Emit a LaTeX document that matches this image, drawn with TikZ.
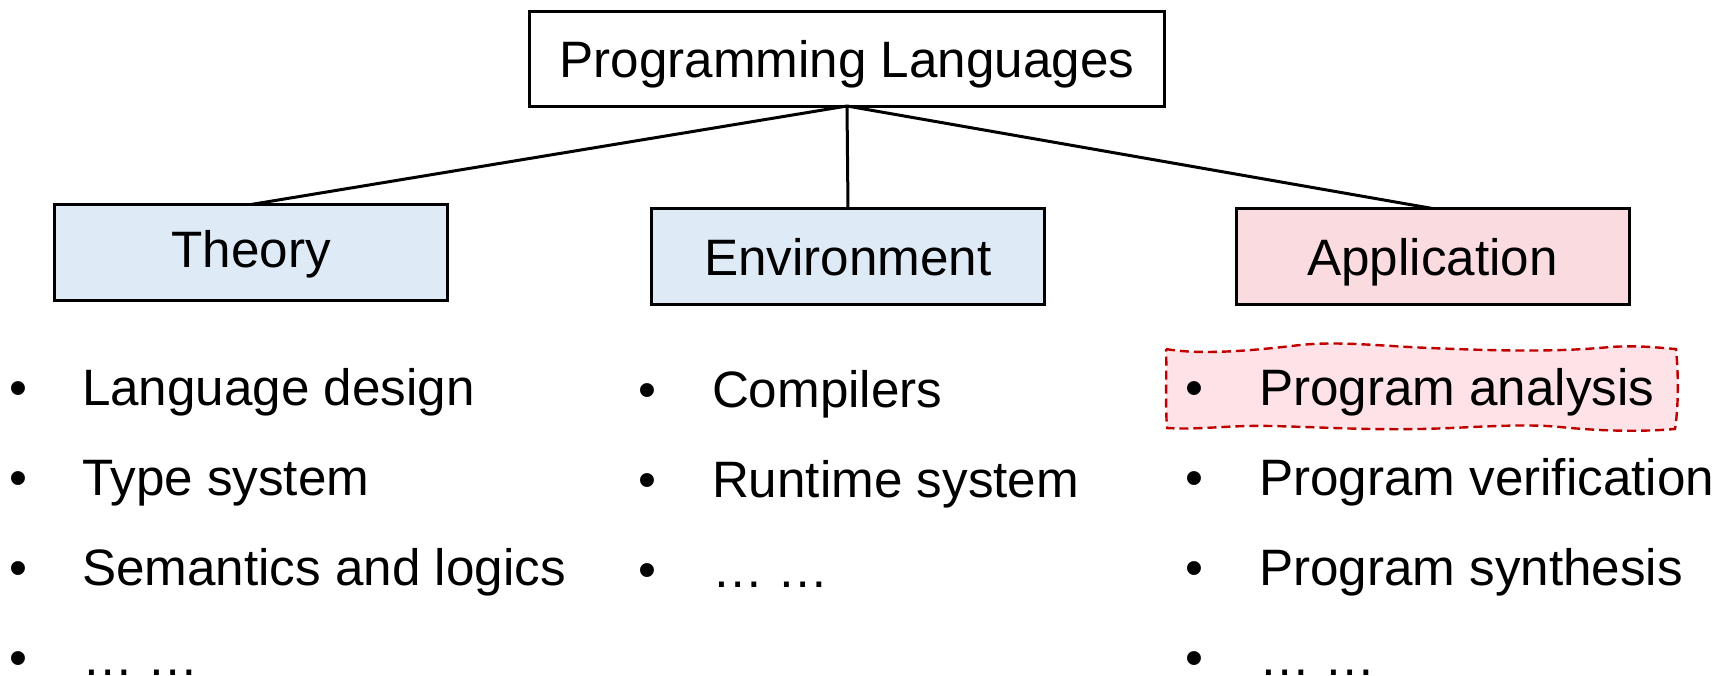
\documentclass[tikz,border=0pt]{standalone}
\usepackage{fontspec}
\setmainfont{Liberation Sans}
\definecolor{bluefill}{HTML}{DEEAF6}
\definecolor{pinkfill}{HTML}{FADBE0}
\definecolor{wavefill}{HTML}{FDE2E7}
\definecolor{wavedash}{HTML}{C00000}
\begin{document}
\begin{tikzpicture}[x=1pt,y=-1pt,
  every node/.style={font=\fontsize{51.2}{61}\selectfont, inner sep=0pt, outer sep=0pt},
  catbox/.style={draw=black, line width=3pt, minimum width=393pt, minimum height=96pt,
                 text height=37pt, text depth=0pt},
  link/.style={draw=black, line width=3pt},
  bulletmark/.style={anchor=base},
  item/.style={anchor=base west},
  wavy/.style={draw=wavedash, line width=2.4pt, dash pattern=on 9pt off 5pt, fill=wavefill}
]
\useasboundingbox (0,0) rectangle (1723,675);

% highlighted item background
\path[wavy] (1166,349) .. controls (1200,355) and (1250,351) .. (1300,345)
  .. controls (1340,341) and (1380,346) .. (1430,348)
  .. controls (1500,351) and (1560,352) .. (1610,347)
  .. controls (1640,345) and (1660,348) .. (1676,349)
  .. controls (1679,380) and (1678,410) .. (1675,429)
  .. controls (1640,432) and (1600,431) .. (1560,427)
  .. controls (1520,423) and (1470,428) .. (1420,429)
  .. controls (1360,430) and (1320,427) .. (1270,426)
  .. controls (1230,425) and (1200,430) .. (1167,428)
  .. controls (1165,400) and (1167,370) .. (1166,349) -- cycle;

% hierarchy
\node[catbox, minimum width=635pt, minimum height=95pt] (root) at (847,58.5) {Programming Languages};
\node[catbox, fill=bluefill, text height=29pt] (theory) at (251,252.5) {Theory};
\node[catbox, fill=bluefill] (env) at (848,256.5) {Environment};
\node[catbox, fill=pinkfill] (app) at (1432.5,256.5) {Application};

\draw[link] (root.south) -- (theory.north);
\draw[link] (root.south) -- (env.north);
\draw[link] (root.south) -- (app.north);

% Theory items
\node[bulletmark] (tb1) at (18,405) {\textbullet};
\node[item] (t1) at (82,405) {Language design};
\node[bulletmark] (tb2) at (18,495.5) {\textbullet};
\node[item] (t2) at (82,495.5) {Type system};
\node[bulletmark] (tb3) at (18,585.5) {\textbullet};
\node[item] (t3) at (82,585.5) {Semantics and logics};
\node[bulletmark] (tb4) at (18,675) {\textbullet};
\node[item] (t4) at (82,675) {… …};

% Environment items
\node[bulletmark] (eb1) at (647,407) {\textbullet};
\node[item] (e1) at (712,407) {Compilers};
\node[bulletmark] (eb2) at (647,497.5) {\textbullet};
\node[item] (e2) at (712,497.5) {Runtime system};
\node[bulletmark] (eb3) at (647,587.5) {\textbullet};
\node[item] (e3) at (712,587.5) {… …};

% Application items
\node[bulletmark] (ab1) at (1194,405) {\textbullet};
\node[item] (a1) at (1259,405) {Program analysis};
\node[bulletmark] (ab2) at (1194,495.5) {\textbullet};
\node[item] (a2) at (1259,495.5) {Program verification};
\node[bulletmark] (ab3) at (1194,585.5) {\textbullet};
\node[item] (a3) at (1259,585.5) {Program synthesis};
\node[bulletmark] (ab4) at (1194,675) {\textbullet};
\node[item] (a4) at (1259,675) {… …};
\end{tikzpicture}
\end{document}
